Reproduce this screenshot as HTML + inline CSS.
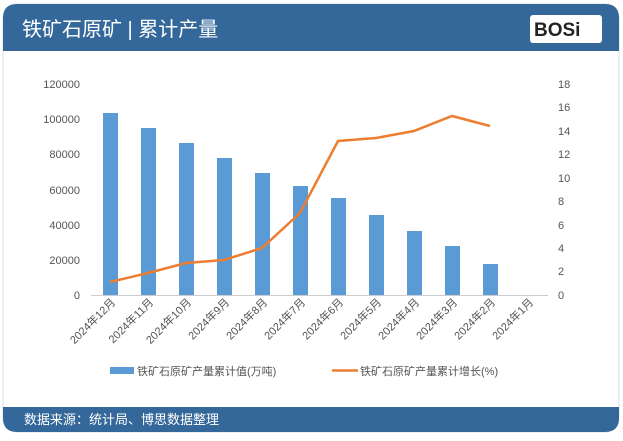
<!DOCTYPE html>
<html><head><meta charset="utf-8"><style>
body{margin:0;width:623px;height:436px;background:#fff;overflow:hidden;font-family:"Liberation Sans","Noto Sans CJK SC",sans-serif}
</style></head><body>
<svg width="623" height="436" xmlns="http://www.w3.org/2000/svg" font-family="Liberation Sans, Noto Sans CJK SC, sans-serif">
<rect x="3" y="4" width="616" height="428" rx="14" fill="#fff" stroke="#d8dde3"/>
<path d="M3 18 Q3 4 17 4 L605 4 Q619 4 619 18 L619 51 L3 51Z" fill="#35689a"/>
<path d="M3 407 L619 407 L619 418 Q619 432 605 432 L17 432 Q3 432 3 418Z" fill="#35689a"/>
<text x="22" y="36" font-size="20" fill="#fff">铁矿石原矿 | 累计产量</text>
<rect x="530" y="15" width="72" height="28" rx="3" fill="#fff"/>
<text x="534" y="36" font-size="19" font-weight="bold" fill="#222">BOSi</text>
<text x="24" y="424" font-size="13" fill="#fff">数据来源：统计局、博思数据整理</text>
<g font-size="11" fill="#555">
<text x="80" y="299" text-anchor="end">0</text>
<text x="80" y="264" text-anchor="end">20000</text>
<text x="80" y="229" text-anchor="end">40000</text>
<text x="80" y="194" text-anchor="end">60000</text>
<text x="80" y="158" text-anchor="end">80000</text>
<text x="80" y="123" text-anchor="end">100000</text>
<text x="80" y="88" text-anchor="end">120000</text>
<text x="558" y="299">0</text><text x="558" y="275">2</text><text x="558" y="252">4</text><text x="558" y="229">6</text><text x="558" y="205">8</text>
<text x="558" y="182">10</text><text x="558" y="158">12</text><text x="558" y="135">14</text><text x="558" y="111">16</text><text x="558" y="88">18</text>
</g>
<line x1="91" y1="295.5" x2="548" y2="295.5" stroke="#ccc"/>
<g fill="#5b9bd5">
<rect x="103" y="113" width="15" height="182"/><rect x="141" y="128" width="15" height="167"/>
<rect x="179" y="143" width="15" height="152"/><rect x="217" y="158" width="15" height="137"/>
<rect x="255" y="173" width="15" height="122"/><rect x="293" y="186" width="15" height="109"/>
<rect x="331" y="198" width="15" height="97"/><rect x="369" y="215" width="15" height="80"/>
<rect x="407" y="231" width="15" height="64"/><rect x="445" y="246" width="15" height="49"/>
<rect x="483" y="264" width="15" height="31"/>
</g>
<polyline fill="none" stroke="#ed7d31" stroke-width="2.5" points="110,282 148,273 186,263 224,260 262,248 300,213 338,141 376,138 414,131 452,116 490,126"/>
<g font-size="11" fill="#555">
<text transform="translate(116,303) rotate(-45)" text-anchor="end">2024年12月</text>
<text transform="translate(154,303) rotate(-45)" text-anchor="end">2024年11月</text>
<text transform="translate(192,303) rotate(-45)" text-anchor="end">2024年10月</text>
<text transform="translate(230,303) rotate(-45)" text-anchor="end">2024年9月</text>
<text transform="translate(268,303) rotate(-45)" text-anchor="end">2024年8月</text>
<text transform="translate(306,303) rotate(-45)" text-anchor="end">2024年7月</text>
<text transform="translate(344,303) rotate(-45)" text-anchor="end">2024年6月</text>
<text transform="translate(382,303) rotate(-45)" text-anchor="end">2024年5月</text>
<text transform="translate(420,303) rotate(-45)" text-anchor="end">2024年4月</text>
<text transform="translate(458,303) rotate(-45)" text-anchor="end">2024年3月</text>
<text transform="translate(496,303) rotate(-45)" text-anchor="end">2024年2月</text>
<text transform="translate(534,303) rotate(-45)" text-anchor="end">2024年1月</text>
</g>
<rect x="110" y="367" width="24" height="7" fill="#5b9bd5"/>
<text x="137" y="375" font-size="11" fill="#555">铁矿石原矿产量累计值(万吨)</text>
<line x1="332" y1="370.5" x2="358" y2="370.5" stroke="#ed7d31" stroke-width="2.5"/>
<text x="360" y="375" font-size="11" fill="#555">铁矿石原矿产量累计增长(%)</text>
</svg>
</body></html>
